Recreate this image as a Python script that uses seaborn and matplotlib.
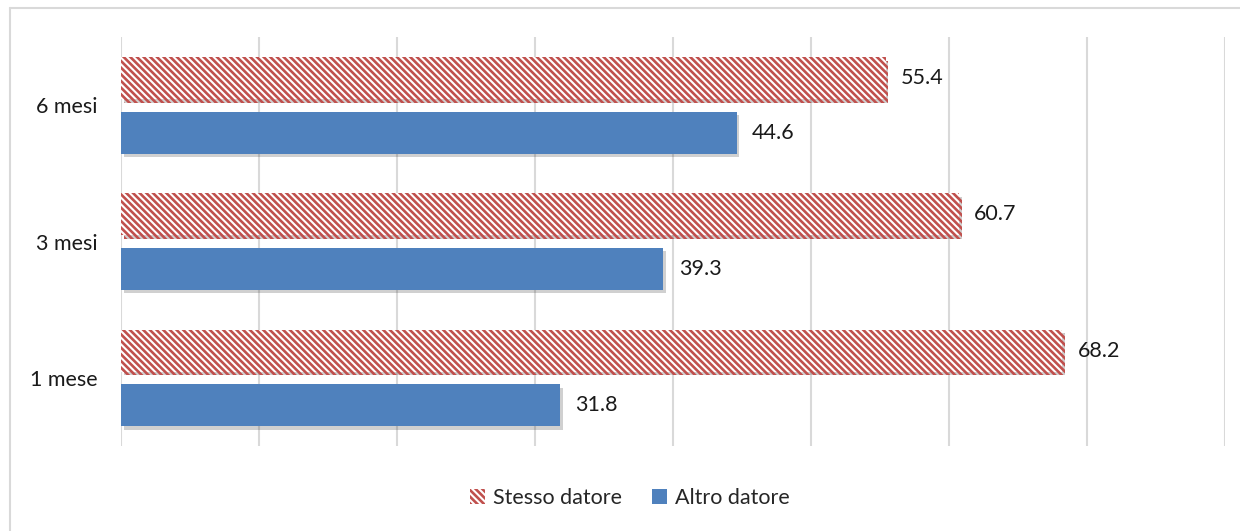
import pandas as pd
import matplotlib.pyplot as plt
import matplotlib.patheffects as pe
from matplotlib.lines import Line2D
from matplotlib.patches import Patch
import seaborn as sns

# data
periods = ["6 mesi", "3 mesi", "1 mese"]
series = ["Stesso datore", "Altro datore"]
stesso = [55.4, 60.7, 68.2]
altro = [44.6, 39.3, 31.8]

red = "#C0504D"
blue = "#4F81BD"

df = pd.DataFrame({
    "periodo": periods * 2,
    "serie": [series[0]] * 3 + [series[1]] * 3,
    "valore": stesso + altro,
})

sns.set_style("white")
plt.rcParams["font.family"] = ["Lato", "DejaVu Sans"]
plt.rcParams["hatch.linewidth"] = 1.9

fig = plt.figure(figsize=(12.4, 5.31), dpi=100)
ax = fig.add_axes([0.0976, 0.160, 0.8904, 0.770])

sns.barplot(data=df, y="periodo", x="valore", hue="serie", order=periods,
            hue_order=series, palette=[red, blue], orient="h",
            width=0.8, gap=0.23, legend=False, ax=ax)

hatch = "\\" * 5

# style the bars: hatched red for "Stesso", solid blue for "Altro"
for i, cont in enumerate(ax.containers):
    for bar in cont:
        if i == 0:
            bar.set_facecolor("white")
            bar.set_edgecolor(red)
            bar.set_hatch(hatch)
            bar.set_linewidth(0)
        else:
            bar.set_facecolor(blue)
            bar.set_edgecolor(blue)
            bar.set_linewidth(0)
        bar.set_path_effects([pe.SimplePatchShadow(offset=(2, -2.5), alpha=0.25,
                                                   shadow_rgbFace="#444444"),
                              pe.Normal()])
    ax.bar_label(cont, fmt="%.1f", padding=11, fontsize=15.5, color="#1a1a1a")

ax.set_xlim(0, 80)
ax.set_ylim(2.5, -0.5)
ax.set_xticks(range(0, 81, 10))
ax.set_xticklabels([])
ax.grid(axis="x", color="#D9D9D9", linewidth=1.5)
ax.set_axisbelow(True)
ax.tick_params(axis="both", length=0)
ax.tick_params(axis="y", labelsize=15.5, pad=17, colors="#1a1a1a")
ax.set_xlabel("")
ax.set_ylabel("")
for s in ax.spines.values():
    s.set_visible(False)

# legend at the bottom
handles = [Patch(facecolor="white", edgecolor=red, hatch=hatch, linewidth=0),
           Patch(facecolor=blue, edgecolor=blue, linewidth=0)]
fig.legend(handles, series, loc="center", bbox_to_anchor=(0.508, 0.062), ncol=2,
           frameon=False, fontsize=15.5, handlelength=0.7, handleheight=0.7,
           handletextpad=0.35, columnspacing=1.4)

# outer chart border (top and left visible)
fig.add_artist(Line2D([10 / 1240, 10 / 1240], [0, 1 - 8 / 531], transform=fig.transFigure,
                      color="#D9D9D9", linewidth=1.5))
fig.add_artist(Line2D([10 / 1240, 1], [1 - 8 / 531, 1 - 8 / 531], transform=fig.transFigure,
                      color="#D9D9D9", linewidth=1.5))

fig.savefig("out.png", dpi=100)
